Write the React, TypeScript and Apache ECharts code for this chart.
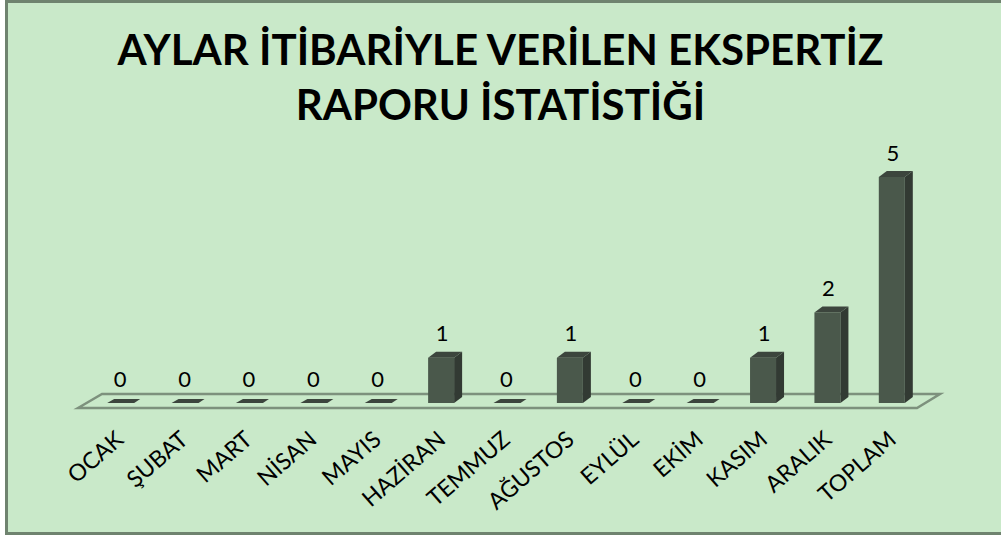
import React, { useEffect, useRef } from "react";
import * as echarts from "echarts";

const TITLE_LINES = ["AYLAR İTİBARİYLE VERİLEN EKSPERTİZ", "RAPORU İSTATİSTİĞİ"];
const CATEGORIES = ["OCAK", "ŞUBAT", "MART", "NİSAN", "MAYIS", "HAZİRAN", "TEMMUZ", "AĞUSTOS", "EYLÜL", "EKİM", "KASIM", "ARALIK", "TOPLAM"];
const VALUES = [0, 0, 0, 0, 0, 1, 0, 1, 0, 0, 1, 2, 5];

const FONT = "Lato, 'Open Sans', sans-serif";
const BG = "#c9e9c9";
const FRONT = "#4a584b";
const SIDE = "#323a33";
const TOP = "#3c453d";
const FLOOR = "#7d917d";

export default function App() {
  const ref = useRef<HTMLDivElement>(null);
  useEffect(() => {
    if (!ref.current) return;
    const chart = echarts.init(ref.current, null, { renderer: "svg" });
    const option: any = {
      animation: false,
      backgroundColor: "transparent",
      graphic: [
        {
          type: "rect",
          z: -10,
          silent: true,
          shape: { x: 6.5, y: 1.5, width: 996, height: 532 },
          style: { fill: BG, stroke: "#6f836f", lineWidth: 3 },
        },
      ],
      title: {
        text: TITLE_LINES.join("\n"),
        left: "center",
        top: 16,
        textStyle: {
          fontFamily: FONT,
          fontWeight: "bold",
          fontSize: 42,
          lineHeight: 55,
          color: "#000",
        },
      },
      grid: { left: 87, right: 77, top: 177, bottom: 135 },
      xAxis: {
        type: "category",
        data: CATEGORIES,
        axisLine: { show: false },
        axisTick: { show: false },
        axisLabel: {
          rotate: 41,
          interval: 0,
          margin: 32,
          fontFamily: FONT,
          fontSize: 23,
          color: "#000",
        },
      },
      yAxis: {
        type: "value",
        min: 0,
        max: 5,
        show: false,
        splitLine: { show: false },
      },
      series: [
        {
          type: "custom",
          z: 1,
          silent: true,
          data: [[0, 0]],
          renderItem: (params: any, api: any) => {
            const cs = params.coordSys;
            const y0 = api.coord([0, 0])[1];
            const l = cs.x;
            const r = cs.x + cs.width;
            return {
              type: "polygon",
              shape: {
                points: [
                  [l - 9, y0 + 5],
                  [l + 15, y0 - 9],
                  [r + 16, y0 - 9],
                  [r - 7, y0 + 5],
                ],
              },
              style: { fill: BG, stroke: FLOOR, lineWidth: 2.5 },
            };
          },
        },
        {
          type: "custom",
          z: 2,
          data: VALUES.map((v, i) => [i, v]),
          renderItem: (params: any, api: any) => {
            const i = api.value(0);
            const v = api.value(1);
            const [c, yv] = api.coord([i, v]);
            const y0 = api.coord([i, 0])[1];
            const children: any[] = [];
            if (v === 0) {
              children.push({
                type: "polygon",
                shape: {
                  points: [
                    [c - 12, y0],
                    [c + 15, y0],
                    [c + 21, y0 - 4],
                    [c - 5, y0 - 4],
                  ],
                },
                style: { fill: TOP },
              });
            } else {
              children.push({
                type: "rect",
                shape: { x: c - 13, y: yv, width: 26, height: y0 - yv },
                style: { fill: FRONT },
              });
              children.push({
                type: "polygon",
                shape: {
                  points: [
                    [c + 13, y0],
                    [c + 13, yv],
                    [c + 21, yv - 6],
                    [c + 21, y0 - 6],
                  ],
                },
                style: { fill: SIDE },
              });
              children.push({
                type: "polygon",
                shape: {
                  points: [
                    [c - 13, yv],
                    [c + 13, yv],
                    [c + 21, yv - 6],
                    [c - 5, yv - 6],
                  ],
                },
                style: { fill: TOP },
              });
            }
            children.push({
              type: "text",
              style: {
                x: c + 1,
                y: yv - 25,
                text: String(v),
                align: "center",
                verticalAlign: "middle",
                fontFamily: FONT,
                fontSize: 22,
                fill: "#000",
              },
            });
            return { type: "group", children };
          },
        },
      ],
    };
    chart.setOption(option);
    return () => chart.dispose();
  }, []);
  return (
    <div
      ref={ref}
      style={{ position: "absolute", left: 0, top: 0, width: 1001, height: 538 }}
    />
  );
}
